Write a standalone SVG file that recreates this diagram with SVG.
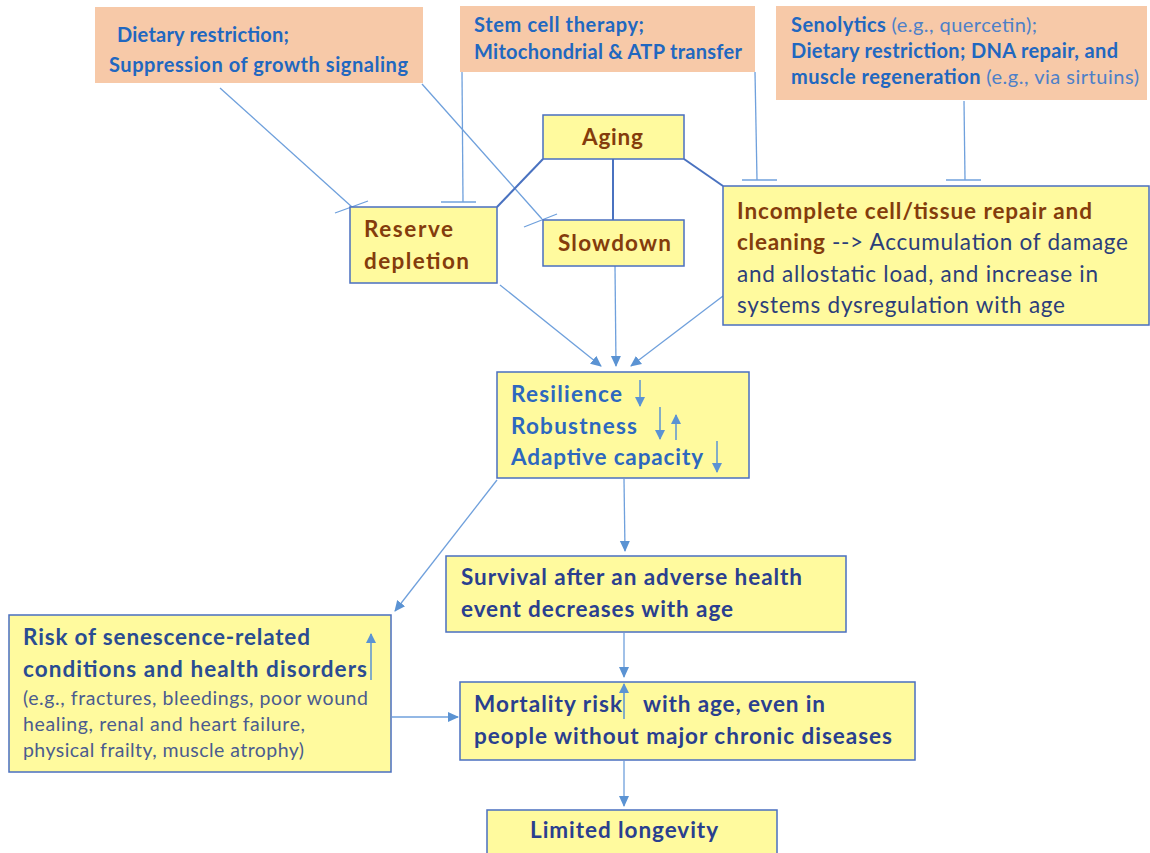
<svg xmlns="http://www.w3.org/2000/svg" width="1150" height="853" viewBox="0 0 1150 853">
<style>
.bg{fill:#ffffff}
.org{fill:#f7c9a8;stroke:none}
.yel{fill:#fffa9e;stroke:#4a6fc0;stroke-width:1.5}
.t{font-family:Lato,"Open Sans","Liberation Sans",sans-serif}
.ob{fill:#2167c0;font-size:20px;font-weight:bold}
.on{fill:#4d80c8;font-size:20px;font-weight:normal}
.br{fill:#843c0c;font-size:22.5px;font-weight:bold}
.nv{fill:#2c3e7a;font-size:22.5px}
.rb{fill:#2d68bf;font-size:22.5px;font-weight:bold}
.kb{fill:#2a4c92;font-size:22.5px;font-weight:bold}
.kn{fill:#4b5c8f;font-size:19.5px}
.db{fill:#2a3f8f;font-size:22.5px;font-weight:bold}
.ln{stroke:#6fa0dc;stroke-width:1.3;fill:none}
.dk{stroke:#4a72c0;stroke-width:2;fill:none}
.ar{stroke:#6fa0dc;stroke-width:1.3;fill:none;marker-end:url(#ah)}
.sa{stroke:#5b93d3;stroke-width:1.5;fill:none;marker-end:url(#sh)}
</style>
<defs>
<marker id="ah" markerWidth="12" markerHeight="12" refX="10" refY="5" orient="auto" markerUnits="userSpaceOnUse" viewBox="0 0 12 10">
<path d="M0,0 L11,5 L0,10 z" fill="#5b93d3"/>
</marker>
<marker id="sh" markerWidth="10" markerHeight="10" refX="9" refY="5" orient="auto" markerUnits="userSpaceOnUse" viewBox="0 0 10 10">
<path d="M0,0 L10,5 L0,10 z" fill="#5b93d3"/>
</marker>
</defs>
<rect class="bg" x="0" y="0" width="1150" height="853"/>

<g id="connectors">
  <line class="ln" x1="220" y1="88" x2="352" y2="207"/>
  <line class="ln" x1="335" y1="213" x2="368" y2="201"/>
  <line class="ln" x1="422" y1="84" x2="542" y2="219"/>
  <line class="ln" x1="524" y1="227" x2="557" y2="214"/>
  <line class="ln" x1="462" y1="72" x2="463" y2="202"/>
  <line class="ln" x1="441" y1="202" x2="476" y2="202"/>
  <line class="ln" x1="755" y1="72" x2="757" y2="180"/>
  <line class="ln" x1="742" y1="180" x2="777" y2="180"/>
  <line class="ln" x1="964" y1="101" x2="965" y2="180"/>
  <line class="ln" x1="946" y1="180" x2="981" y2="180"/>
  <line class="dk" x1="543" y1="159" x2="497" y2="207"/>
  <line class="dk" x1="613" y1="159" x2="613" y2="220"/>
  <line class="dk" x1="684" y1="159" x2="723" y2="186"/>
  <line class="ar" x1="500" y1="285" x2="601" y2="366"/>
  <line class="ar" x1="615" y1="266" x2="616" y2="366"/>
  <line class="ar" x1="723" y1="296" x2="631" y2="366"/>
  <line class="ar" x1="624" y1="479" x2="625" y2="551"/>
  <line class="ar" x1="497" y1="480" x2="395" y2="611"/>
  <line class="ar" x1="624" y1="633" x2="624" y2="677"/>
  <line class="ar" x1="392" y1="717" x2="458" y2="717"/>
  <line class="ar" x1="624" y1="761" x2="624" y2="806"/>
</g>

<g id="box-dietary">
  <rect class="org" x="95" y="7" width="328" height="76"/>
  <text class="t ob" x="117" y="42" textLength="172">Dietary restriction;</text>
  <text class="t ob" x="109" y="72" textLength="299">Suppression of growth signaling</text>
</g>
<g id="box-stemcell">
  <rect class="org" x="460" y="6" width="295" height="66"/>
  <text class="t ob" x="474" y="32" textLength="170">Stem cell therapy;</text>
  <text class="t ob" x="474" y="59" textLength="268">Mitochondrial &amp; ATP transfer</text>
</g>
<g id="box-senolytics">
  <rect class="org" x="776" y="6" width="371" height="94"/>
  <text class="t ob" x="791" y="32" textLength="246">Senolytics <tspan class="on">(e.g., quercetin);</tspan></text>
  <text class="t ob" x="791" y="58" textLength="327">Dietary restriction; DNA repair, and</text>
  <text class="t ob" x="791" y="84" textLength="348">muscle regeneration <tspan class="on">(e.g., via sirtuins)</tspan></text>
</g>

<g id="node-aging">
  <rect class="yel" x="543" y="115" width="141" height="44"/>
  <text class="t br" x="582" y="145" textLength="61">Aging</text>
</g>
<g id="node-reserve">
  <rect class="yel" x="350" y="207" width="147" height="76"/>
  <text class="t br" x="364" y="237" textLength="89">Reserve</text>
  <text class="t br" x="364" y="269" textLength="105">depletion</text>
</g>
<g id="node-slowdown">
  <rect class="yel" x="543" y="220" width="141" height="46"/>
  <text class="t br" x="558" y="251" textLength="113">Slowdown</text>
</g>
<g id="node-incomplete">
  <rect class="yel" x="723" y="186" width="426" height="139"/>
  <text class="t br" x="737" y="219" textLength="355">Incomplete cell/tissue repair and</text>
  <text class="t br" x="737" y="250" textLength="391">cleaning <tspan class="nv" font-weight="normal">--&gt; Accumulation of damage</tspan></text>
  <text class="t nv" x="737" y="282" textLength="361">and allostatic load, and increase in</text>
  <text class="t nv" x="737" y="313" textLength="328">systems dysregulation with age</text>
</g>
<g id="node-resilience">
  <rect class="yel" x="497" y="372" width="252" height="106"/>
  <text class="t rb" x="511" y="402" textLength="111">Resilience</text>
  <text class="t rb" x="511" y="434" textLength="126">Robustness</text>
  <text class="t rb" x="511" y="465" textLength="192">Adaptive capacity</text>
  <line class="sa" x1="640" y1="380" x2="640" y2="406"/>
  <line class="sa" x1="660" y1="407" x2="660" y2="439"/>
  <line class="sa" x1="676" y1="440" x2="676" y2="415"/>
  <line class="sa" x1="717" y1="441" x2="717" y2="472"/>
</g>
<g id="node-survival">
  <rect class="yel" x="446" y="556" width="400" height="76"/>
  <text class="t db" x="461" y="585" textLength="341">Survival after an adverse health</text>
  <text class="t db" x="461" y="617" textLength="272">event decreases with age</text>
</g>
<g id="node-risk">
  <rect class="yel" x="9" y="615" width="382" height="157"/>
  <text class="t kb" x="23" y="645" textLength="287">Risk of senescence-related</text>
  <text class="t kb" x="23" y="677" textLength="344">conditions and health disorders</text>
  <text class="t kn" x="23" y="705" textLength="345">(e.g., fractures, bleedings, poor wound</text>
  <text class="t kn" x="23" y="731" textLength="282">healing, renal and heart failure,</text>
  <text class="t kn" x="23" y="757" textLength="281">physical frailty, muscle atrophy)</text>
  <line class="sa" x1="371" y1="680" x2="371" y2="634"/>
</g>
<g id="node-mortality">
  <rect class="yel" x="460" y="682" width="455" height="78"/>
  <text class="t db" x="474" y="712" textLength="148">Mortality risk</text>
  <text class="t db" x="643" y="712" textLength="182">with age, even in</text>
  <text class="t db" x="474" y="744" textLength="418">people without major chronic diseases</text>
  <line class="sa" x1="624" y1="719" x2="624" y2="684"/>
</g>
<g id="node-longevity">
  <rect class="yel" x="487" y="810" width="290" height="50"/>
  <text class="t db" x="530" y="838" textLength="188">Limited longevity</text>
</g>
</svg>
